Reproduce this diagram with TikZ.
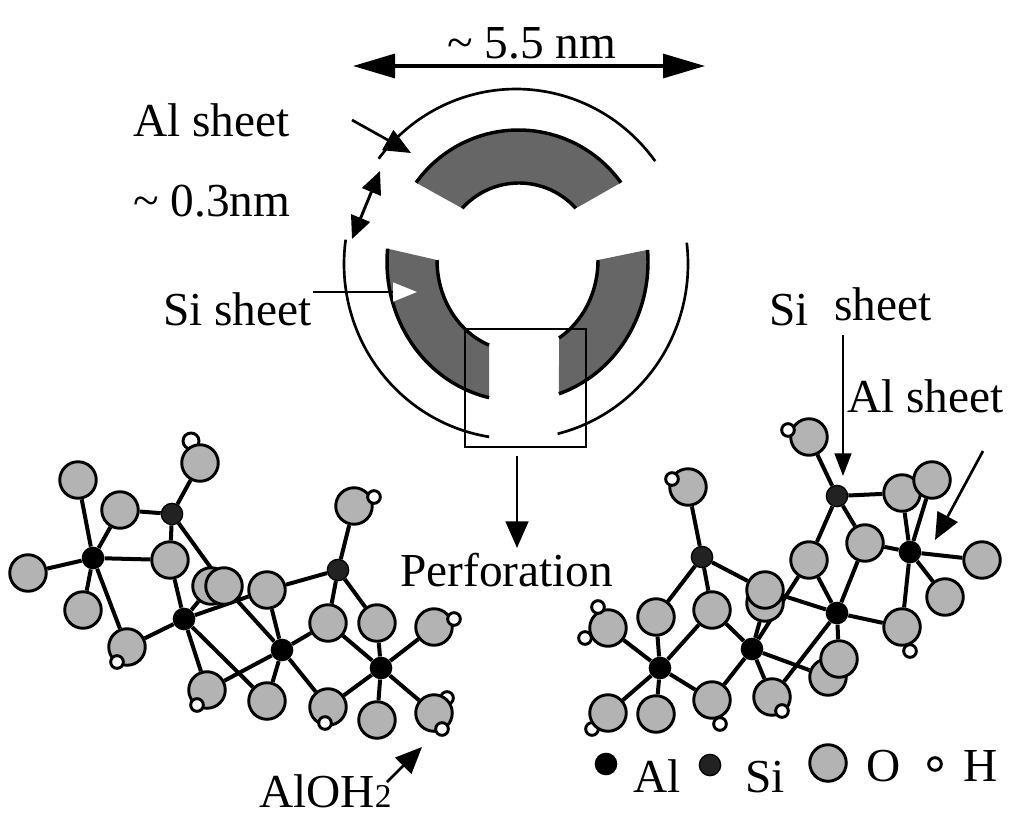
\documentclass[tikz,border=0pt]{standalone}
\usepackage{fontspec}
\setmainfont{Liberation Serif}
\usetikzlibrary{arrows.meta,backgrounds}
\definecolor{sheetgray}{HTML}{666666}
\definecolor{oxygen}{HTML}{B3B3B3}
\definecolor{silicon}{HTML}{222222}
\tikzset{
  oatom/.style={circle,draw=black,fill=oxygen,line width=2.2pt,minimum size=27.4pt,inner sep=0pt},
  hatom/.style={circle,draw=black,fill=white,line width=2.2pt,minimum size=9.5pt,inner sep=0pt},
  alatom/.style={circle,fill=black,minimum size=17pt,inner sep=0pt},
  siatom/.style={circle,draw=black,line width=1pt,fill=silicon,minimum size=16pt,inner sep=0pt},
  bond/.style={line width=3pt,black},
  label/.style={anchor=base west,inner sep=0pt,font=\fontsize{35.5}{36}\selectfont},
  thin arc/.style={line width=2pt,black},
  ring/.style={line width=2.6pt,black},
  pointer/.style={line width=2pt,black,-{Triangle[length=20pt,width=17pt]}},
}
\begin{document}
\begin{tikzpicture}[x=0.75pt,y=-0.75pt]
\useasboundingbox (0,0) rectangle (1024,828);
\begin{pgfonlayer}{background}
\fill[white] (0,0) rectangle (1024,828);
\end{pgfonlayer}

% gray sheet sectors
\fill[sheetgray] plot[domain=144.4:35.6,samples=50] ({518.5+126*cos(\x)},{256-126*sin(\x)})
  -- plot[domain=42:138,samples=50] ({519+76.5*cos(\x)},{259.5-76.5*sin(\x)}) -- cycle;
\draw[ring] plot[domain=144.4:35.6,samples=50] ({518.5+126*cos(\x)},{256-126*sin(\x)});
\draw[ring] plot[domain=42:138,samples=50] ({519+76.5*cos(\x)},{259.5-76.5*sin(\x)});
\fill[sheetgray] plot[domain=174.5:257.4,samples=50] ({517.5+130.5*cos(\x)},{262-139*sin(\x)})
  -- plot[domain=249.3:180,samples=50] ({517.5+80.5*cos(\x)},{260-91*sin(\x)}) -- cycle;
\draw[ring] plot[domain=174.5:257.4,samples=50] ({517.5+130.5*cos(\x)},{262-139*sin(\x)});
\draw[ring] plot[domain=249.3:180,samples=50] ({517.5+80.5*cos(\x)},{260-91*sin(\x)});
\fill[sheetgray] plot[domain=5:-71.5,samples=50] ({517.5+130.5*cos(\x)},{262-139*sin(\x)})
  -- plot[domain=-58.9:0,samples=50] ({517.5+80.5*cos(\x)},{260-91*sin(\x)}) -- cycle;
\draw[ring] plot[domain=5:-71.5,samples=50] ({517.5+130.5*cos(\x)},{262-139*sin(\x)});
\draw[ring] plot[domain=-58.9:0,samples=50] ({517.5+80.5*cos(\x)},{260-91*sin(\x)});

% outer arcs
\draw[thin arc] plot[domain=143:36,samples=60] ({516+172*cos(\x)},{264-175*sin(\x)});
\draw[thin arc] plot[domain=172:261,samples=60] ({516+172*cos(\x)},{264-175*sin(\x)});
\draw[thin arc] plot[domain=7:-76,samples=60] ({516+172*cos(\x)},{264-175*sin(\x)});

% perforation box
\node[draw=black,line width=1.8pt,minimum width=90.5pt,minimum height=88.5pt,inner sep=0pt,anchor=north west] (box) at (464,328) {};

% text labels
\node[label] (width) at (447,58) {\char"7E\ 5.5 nm};
\node[label] (alsheetA) at (133,136) {Al sheet};
\node[label] (thick) at (133,216) {\char"7E\ 0.3nm};
\node[label] (sisheetA) at (163,325) {Si sheet};
\node[label] (siB) at (769,325) {Si};
\node[label] (sheetB) at (834,320) {sheet};
\node[label] (alsheetB) at (847,412) {Al sheet};
\node[label] (perf) at (400,586) {Perforation};
\node[label] (aloh) at (259,807) {AlOH{\fontsize{25}{26}\selectfont 2}};
\node[label] (legAl) at (633,792) {Al};
\node[label] (legSi) at (745,792) {Si};
\node[label] (legO) at (866,781) {O};
\node[label] (legH) at (963,781) {H};

% left molecule: hydrogens behind
\node[hatom,minimum width=12pt,minimum height=9pt] (h1) at (191,441) {};
\node[hatom] (h7) at (447,698) {};
\foreach \n/\x/\y in {a1/78/480,a2/120/510,a3/200/463,a4/28/573,a5/170/560,a6/83/610,a7/127/647,
  a8/211/586,a9/224/586,a10/267/590,a11/354/506,a12/328/623,a13/377/623,a14/434/627,
  a15/207/690,a16/267/701,a17/328/707,a18/377/720,a19/434/713}
  \node[oatom] (\n) at (\x,\y) {};
\foreach \n/\x/\y in {h2/374/497,h3/117/662,h4/197/705,h5/325/723,h6/454/619,h8/442/729}
  \node[hatom] (\n) at (\x,\y) {};
\node[alatom] (A1) at (93,558) {};
\node[siatom] (S1) at (172,514) {};
\node[alatom] (A2) at (184,619) {};
\node[alatom] (A3) at (282,650) {};
\node[siatom] (S2) at (338,570) {};
\node[alatom] (A4) at (381,668) {};

% right molecule
\node[hatom] (k8) at (592,729) {};
\foreach \n/\x/\y in {b1/809/437,b2/688/487,b3/902/493,b4/932/480,b5/865/543,b6/809/560,b7/982/560,
  b8/945/597,b9k/765/603,b9/765/590,b10/902/627,b11/656/617,b12/712/610,b13/608/628,
  b14k/828/677,b14/839/659,b15/712/700,b16/772/697,b17/608/713,b18/656/714}
  \node[oatom] (\n) at (\x,\y) {};
\foreach \n/\x/\y in {k1/788/430,k2/672/479,k3/598/607,k4/585/638,k5/910/651,k6/720/724,k7/782/711}
  \node[hatom] (\n) at (\x,\y) {};
\node[siatom] (S3) at (837,496) {};
\node[alatom] (A5) at (910,552) {};
\node[alatom] (A6) at (837,613) {};
\node[siatom] (S4) at (702,557) {};
\node[alatom] (A7) at (752,649) {};
\node[alatom] (A8) at (660,668) {};

% bonds
\begin{pgfonlayer}{background}
\foreach \p/\q in {A1/a1,A1/a2,A1/a4,A1/a5,A1/a6,A1/a7,
  S1/a2,S1/a3,S1/a5,S1/a9,
  A2/a5,A2/a7,A2/a8,A2/a10,A2/a15,A2/a16,
  A3/a9,A3/a10,A3/a12,A3/a15,A3/a16,A3/a17,
  S2/a10,S2/a11,S2/a12,S2/a13,
  A4/a12,A4/a13,A4/a14,A4/a17,A4/a18,A4/a19,
  S3/b1,S3/b3,S3/b5,S3/b6,
  A5/b3,A5/b4,A5/b5,A5/b7,A5/b8,A5/b10,
  A6/b5,A6/b6,A6/b9,A6/b10,A6/b14,A6/b16,
  S4/b2,S4/b11,S4/b12,S4/b9,
  A7/b6,A7/b9k,A7/b12,A7/b15,A7/b16,A7/b14k,
  A8/b11,A8/b12,A8/b13,A8/b15,A8/b17,A8/b18}
  \draw[bond] (\p) -- (\q);
\end{pgfonlayer}

% legend atoms
\node[alatom] (leg1) at (606,764) {};
\node[siatom] (leg2) at (710,765) {};
\node[oatom] (leg3) at (828,763) {};
\node[hatom] (leg4) at (935,764) {};

% dimension and pointer arrows
\coordinate (wl) at (353,66);
\coordinate (wr) at (705,66);
\draw[line width=2.4pt,{Triangle[length=31.5pt,width=18pt]}-{Triangle[length=31.5pt,width=18pt]}] (wl) -- (wr);
\coordinate (t1) at (380,171);
\coordinate (t2) at (352,239);
\draw[line width=2.2pt,{Triangle[length=17pt,width=15pt]}-{Triangle[length=17pt,width=15pt]}] (t1) -- (t2);
\coordinate (alS) at (352,120);
\coordinate (alE) at (411,153);
\draw[pointer] (alS) -- (alE);
\coordinate (siS) at (313,292);
\coordinate (siE) at (417,292);
\draw[line width=2pt,black,-{Triangle[color=white,length=18pt,width=14pt]}] (siS) -- (siE);
\coordinate (pS) at (517,456);
\coordinate (pE) at (517,548);
\draw[pointer] (pS) -- (pE);
\coordinate (oS) at (387,782);
\coordinate (oE) at (422,747);
\draw[pointer] (oS) -- (oE);
\coordinate (sS) at (843,335);
\coordinate (sE) at (843,476);
\draw[pointer,-{Triangle[length=17pt,width=12.5pt]}] (sS) -- (sE);
\coordinate (qS) at (983,451);
\coordinate (qE) at (935,540);
\draw[pointer] (qS) -- (qE);
\end{tikzpicture}
\end{document}
